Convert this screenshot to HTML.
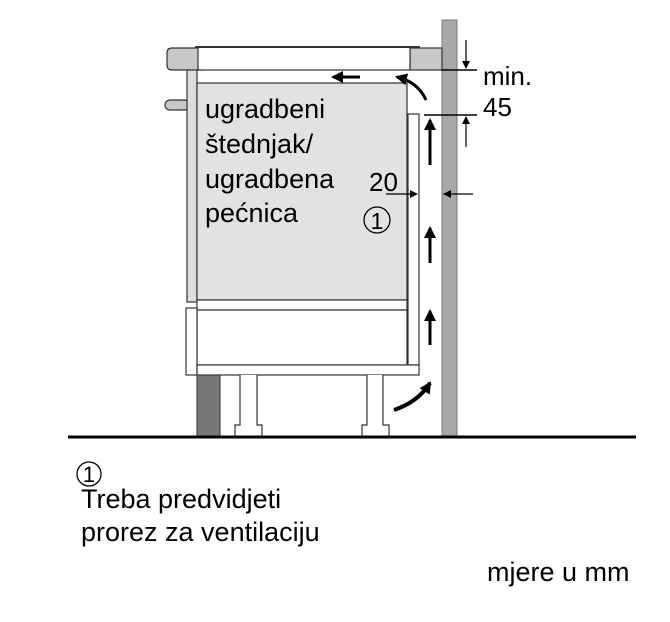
<!DOCTYPE html>
<html><head><meta charset="utf-8"><style>
body{margin:0;background:#fff;}
svg{display:block;font-family:"Liberation Sans",Arial,sans-serif;}
</style></head><body>
<svg width="670" height="622" viewBox="0 0 670 622" xmlns="http://www.w3.org/2000/svg">
<defs>
<marker id="ah" markerWidth="8" markerHeight="8" refX="7" refY="4" orient="auto" markerUnits="userSpaceOnUse"><path d="M0,0 L8,4 L0,8 z" fill="#000"/></marker>
<marker id="ab" markerWidth="12" markerHeight="12" refX="10" refY="6" orient="auto" markerUnits="userSpaceOnUse"><path d="M0,0 L12,6 L0,12 z" fill="#000"/></marker>
</defs>
<rect x="442" y="20" width="15" height="417" fill="#a8a8a8" stroke="#777" stroke-width="1"/>
<path d="M172,48 H202 V70 H172 Q167,70 167,65 V53 Q167,48 172,48 Z" fill="#c8c8c8" stroke="#333" stroke-width="1.2"/>
<rect x="410" y="48" width="32" height="22" fill="#c8c8c8" stroke="#333" stroke-width="1.2"/>
<rect x="198" y="47" width="212" height="23" fill="#fff" stroke="#333" stroke-width="1.2"/>
<line x1="195" y1="47" x2="420" y2="47" stroke="#333" stroke-width="2"/>
<rect x="165" y="100" width="24" height="10" rx="5" fill="#c8c8c8" stroke="#333" stroke-width="1.2"/>
<rect x="187" y="70" width="10" height="232" fill="#ddd" stroke="#333" stroke-width="1.2"/>
<rect x="197" y="83" width="210" height="217" fill="#e2e2e2" stroke="#333" stroke-width="1.2"/>
<rect x="197" y="300" width="210" height="10" fill="#fff" stroke="#333" stroke-width="1.2"/>
<rect x="197" y="310" width="210" height="55" fill="#fff" stroke="#333" stroke-width="1.2"/>
<rect x="186" y="308" width="11" height="67" fill="#fff" stroke="#333" stroke-width="1.2"/>
<rect x="408" y="114" width="11" height="251" fill="#fff" stroke="#333" stroke-width="1.2"/>
<rect x="197" y="365" width="222" height="10" fill="#fff" stroke="#333" stroke-width="1.2"/>
<rect x="197" y="375" width="23" height="62" fill="#777" stroke="#333" stroke-width="1"/>
<path d="M240,375 V425 H235 V437 H262 V425 H257 V375" fill="#fff" stroke="#333" stroke-width="1.2"/>
<path d="M367,375 V425 H362 V437 H389 V425 H383 V375" fill="#fff" stroke="#333" stroke-width="1.2"/>
<line x1="68" y1="437" x2="636" y2="437" stroke="#000" stroke-width="3"/>
<line x1="360" y1="77" x2="333" y2="77" stroke="#000" stroke-width="3" marker-end="url(#ab)"/>
<path d="M426,100 Q418,82 397,77" fill="none" stroke="#000" stroke-width="3" marker-end="url(#ab)"/>
<line x1="430" y1="165" x2="430" y2="120" stroke="#000" stroke-width="3" marker-end="url(#ab)"/>
<line x1="430" y1="263" x2="430" y2="228" stroke="#000" stroke-width="3" marker-end="url(#ab)"/>
<line x1="430" y1="345" x2="430" y2="311" stroke="#000" stroke-width="3" marker-end="url(#ab)"/>
<path d="M394,410 Q418,402 430,383" fill="none" stroke="#000" stroke-width="4" marker-end="url(#ab)"/>
<line x1="442" y1="70" x2="477" y2="70" stroke="#000" stroke-width="1.5"/>
<line x1="466" y1="40" x2="466" y2="68" stroke="#000" stroke-width="1.2" marker-end="url(#ah)"/>
<line x1="424" y1="115" x2="477" y2="115" stroke="#000" stroke-width="1.5"/>
<line x1="466" y1="147" x2="466" y2="117" stroke="#000" stroke-width="1.2" marker-end="url(#ah)"/>
<line x1="386" y1="194" x2="417" y2="194" stroke="#000" stroke-width="1.2" marker-end="url(#ah)"/>
<line x1="473" y1="194" x2="444" y2="194" stroke="#000" stroke-width="1.2" marker-end="url(#ah)"/>
<text x="483" y="85" font-size="26">min.</text>
<text x="483" y="116" font-size="26">45</text>
<text x="369" y="191" font-size="26">20</text>
<g font-size="27">
<text x="205" y="118">ugradbeni</text>
<text x="205" y="153">štednjak/</text>
<text x="205" y="188">ugradbena</text>
<text x="205" y="222">pećnica</text>
</g>
<circle cx="377" cy="220" r="13" fill="none" stroke="#000" stroke-width="1.3"/>
<text x="377" y="229" font-size="23" text-anchor="middle">1</text>
<circle cx="89" cy="474" r="12" fill="none" stroke="#000" stroke-width="1.3"/>
<text x="89" y="482" font-size="22" text-anchor="middle">1</text>
<text x="81" y="508" font-size="27">Treba predvidjeti</text>
<text x="81" y="541" font-size="27">prorez za ventilaciju</text>
<text x="487" y="581" font-size="27">mjere u mm</text>
</svg>
</body></html>
